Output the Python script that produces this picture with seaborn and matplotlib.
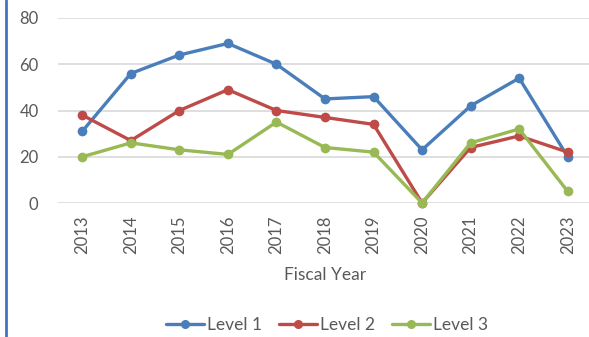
import matplotlib
matplotlib.use("Agg")
import matplotlib.pyplot as plt
from matplotlib.lines import Line2D
import seaborn as sns
import pandas as pd

years = [2013, 2014, 2015, 2016, 2017, 2018, 2019, 2020, 2021, 2022, 2023]
level1 = [31, 56, 64, 69, 60, 45, 46, 23, 42, 54, 20]
level2 = [38, 27, 40, 49, 40, 37, 34, 0, 24, 29, 22]
level3 = [20, 26, 23, 21, 35, 24, 22, 0, 26, 32, 5]
series_names = ["Level 1", "Level 2", "Level 3"]
colors = ["#4A7EBB", "#BE4B48", "#98B954"]

df = pd.DataFrame({
    "Fiscal Year": years * 3,
    "Count": level1 + level2 + level3,
    "Series": [n for n in series_names for _ in years],
})

sns.set_theme(style="white")
plt.rcParams["font.family"] = ["Lato", "DejaVu Sans"]

fig = plt.figure(figsize=(5.89, 3.37), dpi=100)
ax = fig.add_axes([58 / 589, (337 - 203) / 337, (592 - 58) / 589, (203 - 18) / 337])

sns.lineplot(data=df, x="Fiscal Year", y="Count", hue="Series",
             palette=colors, marker="o", markersize=7, markeredgewidth=0,
             linewidth=2.4, ax=ax, legend=False, clip_on=False)

ax.set_xlim(years[0] - 0.5, years[-1] + 0.5)
ax.set_ylim(0, 80)
ax.set_yticks([0, 20, 40, 60, 80])
ax.set_xticks(years)
ax.set_xticklabels([str(y) for y in years], rotation=90)
ax.yaxis.grid(True, color="#D9D9D9", linewidth=1.2)
ax.set_axisbelow(True)
for s in ax.spines.values():
    s.set_visible(False)
ax.tick_params(axis="both", length=0, labelsize=12, labelcolor="#595959")
ax.tick_params(axis="y", pad=14)
ax.tick_params(axis="x", pad=9)
ax.set_ylabel("")
ax.set_xlabel("Fiscal Year", fontsize=12.5, color="#595959", labelpad=9)

handles = [Line2D([0], [0], color=c, linewidth=2.4, marker="o", markersize=5.5)
           for c in colors]
fig.legend(handles, series_names, loc="center", bbox_to_anchor=(0.555, 0.035),
           ncol=3, frameon=False, fontsize=12.5, handlelength=2.2,
           columnspacing=1.0, handletextpad=0.15, labelcolor="#595959")

# Left border rule
fig.add_artist(Line2D([5.5 / 589, 5.5 / 589], [0, 1], transform=fig.transFigure,
                      color="#4472C4", linewidth=2))

fig.savefig("out.png", dpi=100)
